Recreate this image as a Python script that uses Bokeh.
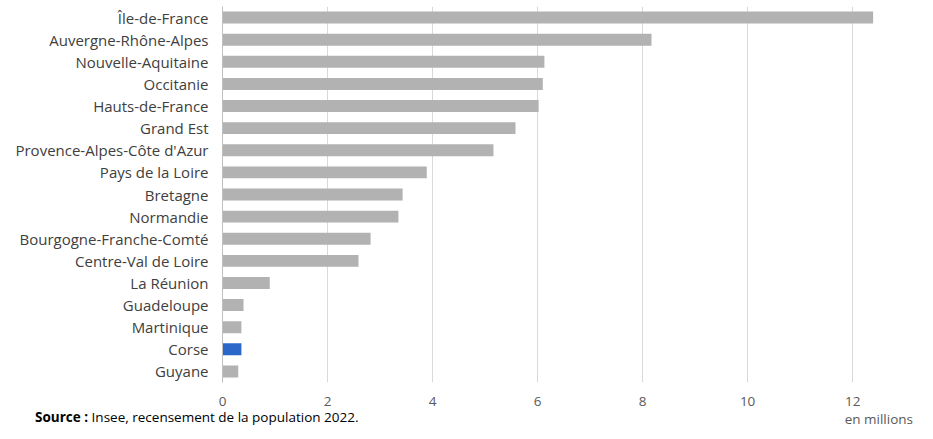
from bokeh.plotting import figure
from bokeh.models import FactorRange, Range1d, FixedTicker, ColumnDataSource, Div
from bokeh.layouts import column
from bokeh.embed import file_html
from bokeh.resources import INLINE

regions = ["Île-de-France", "Auvergne-Rhône-Alpes", "Nouvelle-Aquitaine", "Occitanie",
           "Hauts-de-France", "Grand Est", "Provence-Alpes-Côte d'Azur", "Pays de la Loire",
           "Bretagne", "Normandie", "Bourgogne-Franche-Comté", "Centre-Val de Loire",
           "La Réunion", "Guadeloupe", "Martinique", "Corse", "Guyane"]
population = [12.39, 8.17, 6.13, 6.10, 6.02, 5.58, 5.16, 3.89, 3.43, 3.35, 2.82, 2.59,
              0.90, 0.40, 0.36, 0.36, 0.30]
highlight = "Corse"
x_ticks = [0, 2, 4, 6, 8, 10, 12]
source_label = "Source :"
source_text = "Insee, recensement de la population 2022."
unit_text = "en millions"

FONT = "Open Sans"
GREY_TXT = "#595959"

colors = ["#2b67c9" if r == highlight else "#b2b2b2" for r in regions]
src = ColumnDataSource(dict(region=regions, pop=population, color=colors))

p = figure(width=917, height=408, output_backend="svg", toolbar_location=None,
           y_range=FactorRange(factors=list(reversed(regions))),
           x_range=Range1d(0, 13.14),
           min_border_left=222, min_border_right=5, min_border_top=6, min_border_bottom=22)

p.hbar(y="region", right="pop", left=0, height=0.54, color="color", line_color=None, source=src)

p.outline_line_color = None
p.background_fill_color = "white"
p.border_fill_color = "white"

p.xaxis.ticker = FixedTicker(ticks=x_ticks)
p.xaxis.axis_line_color = None
p.xaxis.major_tick_line_color = None
p.xaxis.minor_tick_line_color = None
p.xaxis.major_label_text_font = FONT
p.xaxis.major_label_text_font_size = "13.5px"
p.xaxis.major_label_text_color = GREY_TXT
p.xaxis.major_label_standoff = 8

p.yaxis.axis_line_color = "#c0c0c0"
p.yaxis.axis_line_width = 1
p.yaxis.major_tick_line_color = None
p.yaxis.minor_tick_line_color = None
p.yaxis.major_label_text_font = FONT
p.yaxis.major_label_text_font_size = "15px"
p.yaxis.major_label_text_color = "#404040"
p.yaxis.major_label_standoff = 8

p.xgrid.grid_line_color = "#d9d9d9"
p.ygrid.grid_line_color = None

footer_html = (
    "<div style=\"position:relative;width:917px;height:15px;font-family:'Open Sans';"
    "font-size:13.5px;line-height:15px;white-space:nowrap;\">"
    "<span style=\"position:absolute;left:35px;top:2px;color:#000000;\">"
    f"<b>{source_label}</b> {source_text}</span>"
    f"<span style=\"position:absolute;right:4px;top:4px;color:{GREY_TXT};\">{unit_text}</span>"
    "</div>"
)
footer = Div(text=footer_html, width=917, height=15, margin=(0, 0, 0, 0))

layout = column(p, footer, spacing=0)
open("out.html", "w").write(file_html(layout, INLINE))
